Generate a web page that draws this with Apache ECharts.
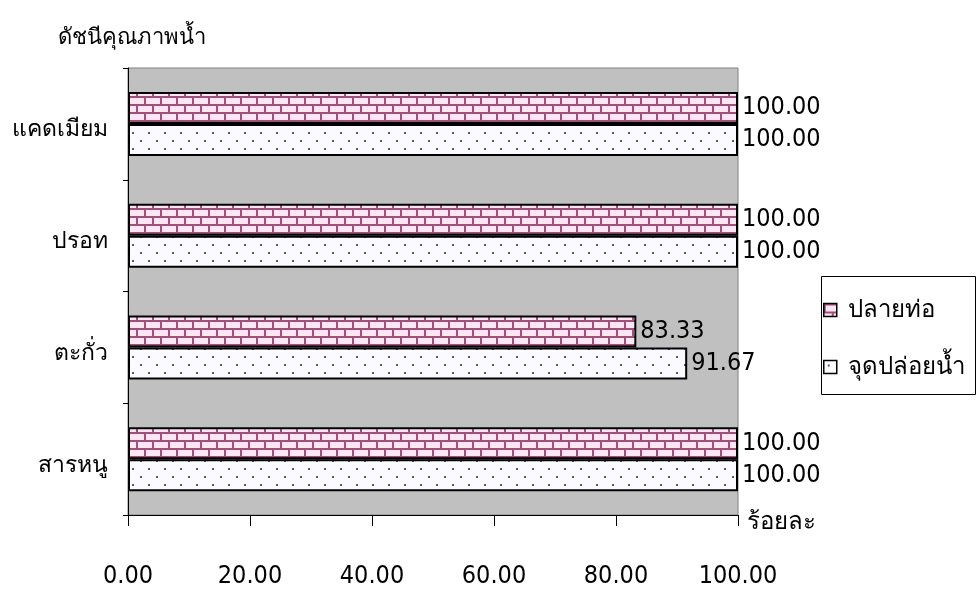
<!DOCTYPE html>
<html><head><meta charset="utf-8">
<script src="https://cdn.jsdelivr.net/npm/echarts@6/dist/echarts.min.js"></script>
<style>html,body{margin:0;padding:0;background:#fff}#c{width:979px;height:594px}</style>
</head><body><div id="c"></div>
<script>
const categories = ['สารหนู', 'ตะกั่ว', 'ปรอท', 'แคดเมียม'];
const seriesNames = ['ปลายท่อ', 'จุดปล่อยน้ำ'];
const pipeEnd = [100, 83.33, 100, 100];
const dischargePoint = [100, 91.67, 100, 100];
const xTicks = [0, 20, 40, 60, 80, 100];

function brick() {
  const c = document.createElement('canvas'); c.width = 16; c.height = 16;
  const g = c.getContext('2d');
  g.fillStyle = '#FDE6F3'; g.fillRect(0, 0, 16, 16);
  g.fillStyle = '#A0507A';
  g.fillRect(0, 0, 16, 2); g.fillRect(0, 8, 16, 2);
  g.fillRect(0, 0, 2, 8); g.fillRect(8, 8, 2, 8);
  return c;
}
function dots() {
  const c = document.createElement('canvas'); c.width = 16; c.height = 16;
  const g = c.getContext('2d');
  g.fillStyle = '#FBFAFF'; g.fillRect(0, 0, 16, 16);
  g.fillStyle = '#55559A';
  g.fillRect(4, 4, 2, 2); g.fillRect(12, 12, 2, 2);
  return c;
}
const narrow = '"Liberation Sans Narrow", "DejaVu Sans Condensed", sans-serif';
const thai = '"Noto Sans", "DejaVu Sans", sans-serif';
const chart = echarts.init(document.getElementById('c'));
const lbl = { show: true, position: 'right', distance: 4, color: '#000', fontFamily: narrow, fontSize: 25,
  formatter: p => p.value.toFixed(2) };
chart.setOption({
  animation: false,
  title: { text: 'ดัชนีคุณภาพน้ำ', left: 53, top: 22, textStyle: { fontFamily: thai, fontSize: 22, fontWeight: 'normal', color: '#000' } },
  graphic: [
    { type: 'rect', shape: { x: 821.5, y: 276.5, width: 154, height: 118 }, style: { fill: '#fff', stroke: '#000', lineWidth: 1 }, z: 0 },
    { type: 'text', left: 747, top: 510, style: { text: 'ร้อยละ', font: '24px ' + thai, fill: '#000' } }
  ],
  legend: {
    data: seriesNames, orient: 'vertical', left: 823, top: 298, itemGap: 33, icon: 'rect', padding: 0,
    itemWidth: 13, itemHeight: 13, itemStyle: { borderWidth: 1.5 },
    textStyle: { fontFamily: thai, fontSize: 24, color: '#000', padding: [0, 0, 0, 6] }
  },
  grid: { left: 128, right: 241, top: 68, bottom: 79, show: true, backgroundColor: '#C0C0C0', borderColor: '#808080', borderWidth: 1 },
  xAxis: {
    type: 'value', min: 0, max: 100, interval: 20,
    axisLine: { show: true, lineStyle: { color: '#000', width: 1 } },
    axisTick: { show: true, length: 11, lineStyle: { color: '#000' } },
    splitLine: { show: false },
    axisLabel: { margin: 49, color: '#000', fontFamily: narrow, fontSize: 25, formatter: v => v.toFixed(2) }
  },
  yAxis: {
    type: 'category', data: categories,
    axisLine: { show: true, lineStyle: { color: '#000', width: 1 } },
    axisTick: { show: true, length: 5, lineStyle: { color: '#000' } },
    axisLabel: { margin: 20, color: '#000', fontFamily: thai, fontSize: 23,
      formatter: v => '{a|' + v + '}',
      rich: { a: { fontFamily: thai, fontSize: 23, color: '#000', padding: [12, 0, 0, 0] } } }
  },
  series: [
    { name: 'ปลายท่อ', type: 'bar', data: pipeEnd, barWidth: 32, barGap: '0%',
      itemStyle: { color: { image: brick(), repeat: 'repeat' }, borderColor: '#000', borderWidth: 2 }, label: lbl },
    { name: 'จุดปล่อยน้ำ', type: 'bar', data: dischargePoint, barWidth: 32, barGap: '0%',
      itemStyle: { color: { image: dots(), repeat: 'repeat' }, borderColor: '#000', borderWidth: 2 }, label: lbl }
  ]
});
</script></body></html>
